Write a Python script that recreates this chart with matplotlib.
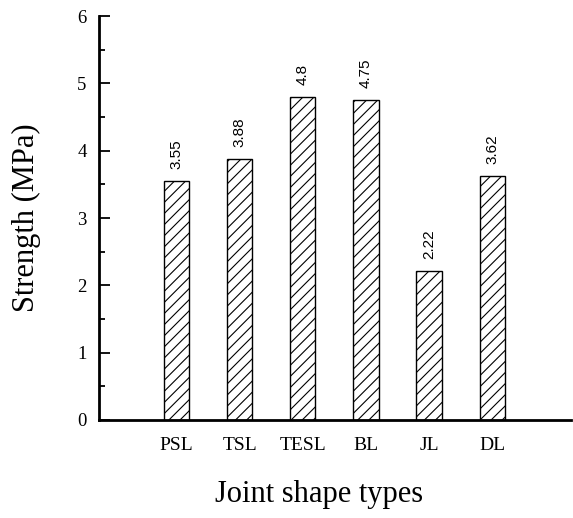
import matplotlib
matplotlib.use("Agg")
import matplotlib.pyplot as plt
from matplotlib.ticker import MultipleLocator

categories = ["PSL", "TSL", "TESL", "BL", "JL", "DL"]
strength = [3.55, 3.88, 4.8, 4.75, 2.22, 3.62]
value_labels = ["3.55", "3.88", "4.8", "4.75", "2.22", "3.62"]

plt.rcParams['hatch.linewidth'] = 0.8
fig = plt.figure(figsize=(5.73, 5.18), dpi=100)
ax = fig.add_axes([0.1728, 0.1892, 0.8237, 0.7799])

x = list(range(1, len(categories) + 1))
bars = ax.bar(x, strength, width=0.4, color='white', edgecolor='black',
              hatch='///', linewidth=1.0)

for xi, v, lab in zip(x, strength, value_labels):
    ax.annotate(lab, (xi, v), xytext=(0, 8.5), textcoords='offset points',
                rotation=90, ha='center', va='bottom', fontsize=11,
                family='Liberation Sans')

ax.set_xlim(-0.23, 7.25)
ax.set_ylim(0, 6)
ax.set_xticks(x)
ax.set_xticklabels(categories, family='Liberation Serif', fontsize=14)
ax.yaxis.set_major_locator(MultipleLocator(1))
ax.yaxis.set_minor_locator(MultipleLocator(0.5))
for lab in ax.get_yticklabels():
    lab.set_family('Liberation Serif')
    lab.set_fontsize(13.5)

ax.tick_params(axis='x', length=0, pad=12)
ax.tick_params(axis='y', which='major', direction='in', length=8, width=1.3, pad=9)
ax.tick_params(axis='y', which='minor', direction='in', length=4, width=1.3)

for s in ['top', 'right']:
    ax.spines[s].set_visible(False)
for s in ['left', 'bottom']:
    ax.spines[s].set_linewidth(2.0)

ax.set_xlabel("Joint shape types", family='Liberation Serif', fontsize=22)
ax.xaxis.set_label_coords(0.466, -0.148)
ax.set_ylabel("Strength (MPa)", family='Liberation Serif', fontsize=22, labelpad=26)

fig.savefig("out.png", dpi=100)
